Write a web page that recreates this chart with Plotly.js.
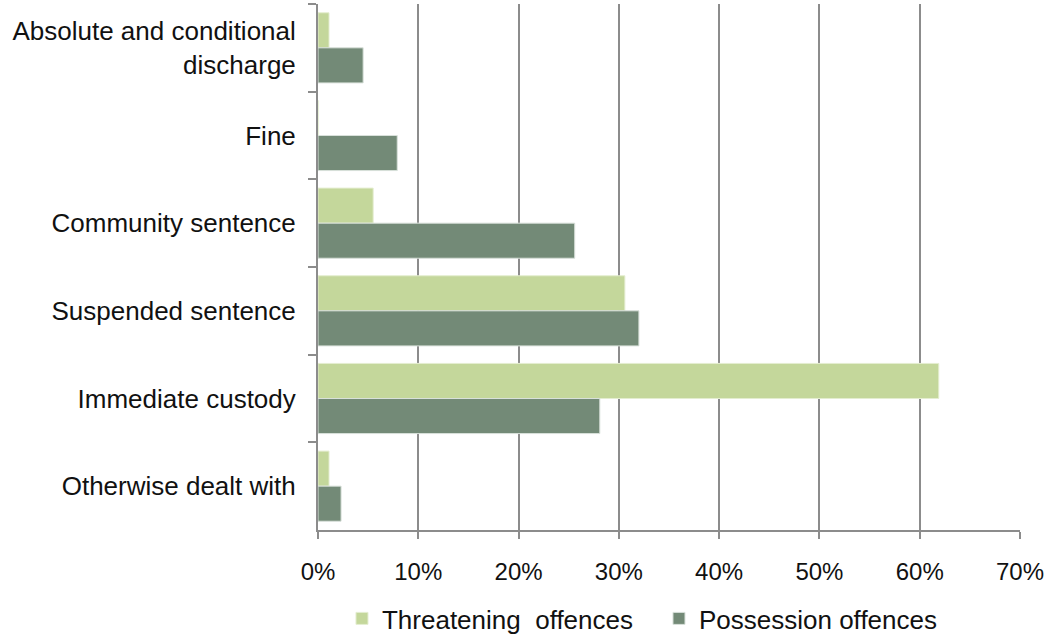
<!DOCTYPE html>
<html>
<head>
<meta charset="utf-8">
<script src="https://cdn.plot.ly/plotly-3.0.1.min.js"></script>
<style>html,body{margin:0;padding:0;background:#fff;}#chart{width:1046px;height:642px;}</style>
</head>
<body>
<div id="chart"></div>
<script>
const categories = ["Absolute and conditional<br>discharge", "Fine", "Community sentence", "Suspended sentence", "Immediate custody", "Otherwise dealt with"];
const threatening = [0.011, 0, 0.055, 0.306, 0.619, 0.011];
const possession = [0.045, 0.079, 0.256, 0.320, 0.281, 0.023];
const seriesNames = ["Threatening  offences", "Possession offences"];
const tickVals = [0, 0.1, 0.2, 0.3, 0.4, 0.5, 0.6, 0.7];
const tickText = ["0%", "10%", "20%", "30%", "40%", "50%", "60%", "70%"];

const traces = [
  {type: "bar", orientation: "h", name: seriesNames[0], y: categories, x: threatening,
   marker: {color: "#c4d79b", line: {color: "#e4edd0", width: 1}}},
  {type: "bar", orientation: "h", name: seriesNames[1], y: categories, x: possession,
   marker: {color: "#738a77", line: {color: "#d8e0da", width: 1}}}
];

const layout = {
  width: 1046, height: 642,
  margin: {l: 318, r: 26, t: 4, b: 112},
  paper_bgcolor: "#fff", plot_bgcolor: "#fff",
  font: {family: "Liberation Sans, Arial, sans-serif", size: 24, color: "#111"},
  barmode: "group", bargap: 0.2, bargroupgap: 0,
  showlegend: true,
  legend: {orientation: "h", x: 0.63, xref: "container", xanchor: "center", y: -0.034, yref: "container", yanchor: "bottom",
           font: {size: 26}, traceorder: "normal", itemwidth: 30, entrywidth: 272},
  xaxis: {range: [0, 0.7], tickvals: tickVals, ticktext: tickText, showgrid: true, gridcolor: "#8c8c8c", gridwidth: 2,
          zeroline: false, showline: true, linecolor: "#8c8c8c", linewidth: 2, ticks: "outside", ticklen: 7, tickcolor: "#8c8c8c", tickwidth: 2,
          tickfont: {size: 24}, ticklabelstandoff: 12, fixedrange: true},
  yaxis: {autorange: "reversed", type: "category", showline: true, linecolor: "#8c8c8c", linewidth: 2,
          ticks: "outside", tickson: "boundaries", ticklen: 8, tickcolor: "#8c8c8c", tickwidth: 2, showgrid: false,
          tickfont: {size: 26}, ticklabelstandoff: 15, fixedrange: true}
};

Plotly.newPlot("chart", traces, layout, {displayModeBar: false, staticPlot: true});
</script>
</body>
</html>
